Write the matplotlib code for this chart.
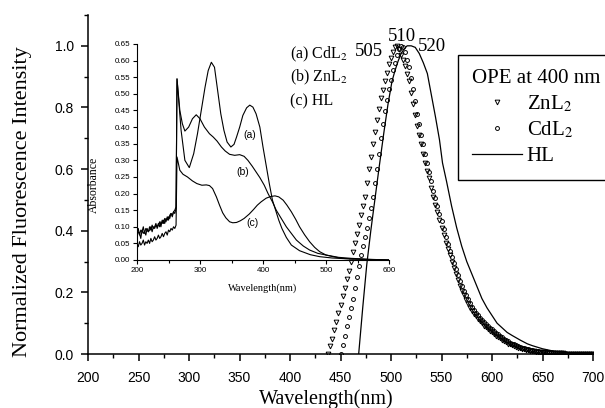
import numpy as np
import matplotlib
matplotlib.use('Agg')
import matplotlib.pyplot as plt
from matplotlib.ticker import MultipleLocator, FormatStrFormatter

plt.rcParams['font.family'] = 'Liberation Sans'
plt.rcParams['mathtext.fontset'] = 'stix'

# fluorescence (OPE at 400 nm), normalized
zn_wl = np.arange(438, 701, 2)
zn_int = [0.000, 0.025, 0.050, 0.078, 0.105, 0.132, 0.160, 0.188, 0.215, 0.243,
          0.270, 0.300, 0.330, 0.360, 0.390, 0.420, 0.450, 0.480, 0.510, 0.555,
          0.600, 0.640, 0.680, 0.720, 0.760, 0.795, 0.830, 0.858, 0.885, 0.913,
          0.940, 0.960, 0.980, 0.995, 1.000, 0.990, 0.970, 0.953, 0.935, 0.910,
          0.885, 0.848, 0.810, 0.775, 0.740, 0.710, 0.680, 0.650, 0.620, 0.595,
          0.570, 0.540, 0.510, 0.485, 0.460, 0.435, 0.410, 0.385, 0.360, 0.340,
          0.320, 0.300, 0.280, 0.260, 0.240, 0.222, 0.205, 0.190, 0.175, 0.162,
          0.150, 0.140, 0.131, 0.122, 0.114, 0.106, 0.099, 0.092, 0.086, 0.080,
          0.075, 0.070,
          0.065, 0.060, 0.055, 0.051, 0.046, 0.042, 0.038, 0.034, 0.031, 0.028,
          0.026, 0.023, 0.021, 0.019, 0.017, 0.015, 0.014, 0.012, 0.011, 0.010,
          0.009, 0.008, 0.007, 0.006, 0.006, 0.005, 0.004, 0.004, 0.003, 0.003,
          0.003, 0.002, 0.002, 0.002, 0.002, 0.001, 0.001, 0.001, 0.001, 0.001,
          0.000, 0.000, 0.000, 0.000, 0.000, 0.000, 0.000, 0.000, 0.000, 0.000]

cd_wl = np.arange(450, 701, 2)
cd_int = [0.000, 0.030, 0.060, 0.090, 0.120, 0.150, 0.180, 0.215, 0.250, 0.285,
          0.320, 0.350, 0.380, 0.410, 0.440, 0.475, 0.510, 0.555, 0.600, 0.650,
          0.700, 0.745, 0.790, 0.825, 0.860, 0.890, 0.920, 0.945, 0.970, 0.990,
          1.000, 0.995, 0.980, 0.955, 0.930, 0.895, 0.860, 0.820, 0.780, 0.745,
          0.710, 0.680, 0.650, 0.620, 0.590, 0.560, 0.530, 0.505, 0.480, 0.455,
          0.430, 0.405, 0.380, 0.358, 0.335, 0.315, 0.295, 0.275, 0.255, 0.238,
          0.220, 0.205, 0.190, 0.177, 0.165, 0.153, 0.142, 0.133, 0.125, 0.117,
          0.110, 0.103, 0.097, 0.091, 0.085, 0.080, 0.075, 0.069, 0.064, 0.059,
          0.054, 0.050, 0.045, 0.041, 0.037, 0.034, 0.031, 0.028, 0.025, 0.023,
          0.021, 0.019, 0.017, 0.015, 0.014, 0.012, 0.011, 0.010, 0.009, 0.008,
          0.007, 0.006, 0.006, 0.005, 0.005, 0.004, 0.004, 0.003, 0.003, 0.002,
          0.002, 0.002, 0.001, 0.001, 0.001, 0.001,
          0.000, 0.000, 0.000, 0.000, 0.000, 0.000, 0.000, 0.000, 0.000, 0.000]

hl_wl = [468, 472, 476, 480, 484, 488, 493, 497, 501, 504, 507, 510, 513, 516,
         520, 524, 528, 532, 536, 540, 544, 548, 551, 555, 560, 565, 570, 575,
         580, 585, 590, 595, 600, 605, 610, 615, 620, 628, 635, 640, 650, 660,
         670, 680, 690, 700]
hl_int = [0.0, 0.15, 0.29, 0.40, 0.50, 0.60, 0.72, 0.81, 0.885, 0.92, 0.95,
          0.975, 0.99, 1.0, 1.0, 0.995, 0.975, 0.945, 0.91, 0.84, 0.77, 0.695,
          0.62, 0.56, 0.48, 0.41, 0.35, 0.30, 0.26, 0.22, 0.18, 0.15, 0.125,
          0.10, 0.085, 0.07, 0.06, 0.045, 0.033, 0.027, 0.017, 0.01, 0.005,
          0.002, 0.001, 0.0]

peak_labels = ['505', '510', '520']
peak_pos = [(478, 0.98), (511, 1.03), (541, 0.997)]

# absorbance (inset)
noise_wl = list(range(200, 263, 2))
abs_a_wl = noise_wl + [263.5, 270, 276, 283, 290, 296, 302, 308, 313, 318, 323,
                       328, 333, 338, 343, 349, 354, 358, 363, 368, 374, 379,
                       384, 389, 395, 400, 405, 410, 415, 420, 425, 430, 437,
                       445, 458, 475, 490, 510, 530, 560, 600]
abs_a = [0.080, 0.095, 0.075, 0.090, 0.085, 0.100, 0.080, 0.095, 0.090, 0.085,
         0.100, 0.090, 0.105, 0.095, 0.100, 0.110, 0.095, 0.105, 0.115, 0.100,
         0.120, 0.110, 0.125, 0.115, 0.130, 0.120, 0.135, 0.140, 0.130, 0.145,
         0.150, 0.160,
         0.545, 0.390, 0.300, 0.278, 0.320, 0.380, 0.450, 0.520, 0.570, 0.595,
         0.580, 0.510, 0.440, 0.390, 0.355, 0.340, 0.348, 0.370, 0.400, 0.435,
         0.458, 0.466, 0.460, 0.440, 0.400, 0.340, 0.285, 0.230, 0.180, 0.150,
         0.120, 0.095, 0.068, 0.045, 0.028, 0.016, 0.010, 0.006, 0.004, 0.002,
         0.000]

abs_b_wl = noise_wl + [263.5, 268, 272, 276, 282, 288, 294, 300, 307, 315, 321,
                       327, 334, 340, 347, 355, 363, 370, 376, 383, 389, 395,
                       402, 408, 415, 421, 429, 437, 445, 453, 464, 474, 487,
                       500, 520, 540, 570, 600]
abs_b = [0.070, 0.085, 0.080, 0.065, 0.090, 0.080, 0.085, 0.075, 0.095, 0.085,
         0.090, 0.100, 0.085, 0.100, 0.095, 0.105, 0.100, 0.110, 0.100, 0.115,
         0.110, 0.120, 0.110, 0.125, 0.120, 0.130, 0.125, 0.140, 0.135, 0.145,
         0.140, 0.155,
         0.545, 0.450, 0.410, 0.388, 0.400, 0.425, 0.437, 0.425, 0.400, 0.380,
         0.370, 0.358, 0.340, 0.328, 0.318, 0.315, 0.317, 0.312, 0.300, 0.282,
         0.265, 0.248, 0.225, 0.200, 0.175, 0.150, 0.125, 0.100, 0.080, 0.060,
         0.042, 0.030, 0.020, 0.015, 0.008, 0.005, 0.002, 0.000]

abs_c_wl = noise_wl + [263.5, 268, 273, 280, 288, 295, 303, 310, 315, 320, 326,
                       331, 336, 341, 347, 352, 358, 364, 370, 378, 385, 391,
                       397, 405, 412, 419, 425, 432, 438, 445, 452, 458, 466,
                       474, 482, 490, 500, 511, 525, 543, 570, 600]
abs_c = [0.050, 0.040, 0.055, 0.045, 0.050, 0.060, 0.045, 0.055, 0.050, 0.060,
         0.050, 0.065, 0.055, 0.060, 0.070, 0.060, 0.065, 0.075, 0.065, 0.070,
         0.080, 0.070, 0.080, 0.085, 0.075, 0.090, 0.085, 0.095, 0.090, 0.100,
         0.095, 0.105,
         0.310, 0.270, 0.258, 0.250, 0.238, 0.230, 0.225, 0.226, 0.224, 0.215,
         0.190, 0.165, 0.142, 0.127, 0.115, 0.112, 0.113, 0.118, 0.125, 0.138,
         0.152, 0.165, 0.175, 0.186, 0.191, 0.193, 0.190, 0.180, 0.165, 0.145,
         0.122, 0.100, 0.076, 0.055, 0.038, 0.025, 0.015, 0.010, 0.005, 0.003,
         0.001, 0.000]

inset_labels = ['(a) CdL$_2$', '(b) ZnL$_2$', '(c) HL']
curve_tags = ['(a)', '(b)', '(c)']
tag_pos = [(379, 0.376), (368, 0.265), (384, 0.11)]

W, H = 605, 408
fig = plt.figure(figsize=(W / 100, H / 100), dpi=100)
ax = fig.add_axes([88 / W, 1 - 354 / H, 505 / W, 339 / H])

serif = 'Liberation Serif'

ax.plot(zn_wl, zn_int, linestyle='none', marker='v', ms=3.4, mfc='none',
        mec='black', mew=0.7, label='ZnL$_2$')
ax.plot(cd_wl, cd_int, linestyle='none', marker='o', ms=2.8, mfc='none',
        mec='black', mew=0.7, label='CdL$_2$')
ax.plot(hl_wl, hl_int, color='black', lw=0.9, label='HL')

for txt, (px, py) in zip(peak_labels, peak_pos):
    ax.text(px, py, txt, family=serif, fontsize=13.5, ha='center', va='center')

ax.set_xlim(200, 700)
ax.set_ylim(0, 1.1)
ax.spines['top'].set_visible(False)
ax.spines['right'].set_visible(False)
for s in ['left', 'bottom']:
    ax.spines[s].set_linewidth(1.1)
ax.xaxis.set_major_locator(MultipleLocator(50))
ax.xaxis.set_minor_locator(MultipleLocator(25))
ax.yaxis.set_major_locator(MultipleLocator(0.2))
ax.yaxis.set_minor_locator(MultipleLocator(0.1))
ax.yaxis.set_major_formatter(FormatStrFormatter('%.1f'))
ax.tick_params(which='major', direction='out', length=5, width=1.1, labelsize=10)
ax.tick_params(which='minor', direction='out', length=3, width=1.0)
ax.tick_params(axis='x', pad=7)
ax.tick_params(axis='y', pad=5)
ax.set_xlabel('Wavelength(nm)', family=serif, fontsize=14.5)
ax.set_ylabel('Normalized Fluorescence Intensity', family=serif, fontsize=16)
ax.xaxis.set_label_coords(0.471, -0.104)
ax.yaxis.set_label_coords(-0.111, 0.45)

leg = ax.legend(title='OPE at 400 nm', loc='upper left',
                bbox_to_anchor=(458 / W, 1 - 55 / H), bbox_transform=fig.transFigure,
                borderaxespad=0, fancybox=False, edgecolor='black', framealpha=1,
                alignment='left', numpoints=1, handlelength=2.4,
                handletextpad=0.25, borderpad=0.65, labelspacing=0.28,
                prop={'family': serif, 'size': 15},
                title_fontproperties={'family': serif, 'size': 15})
leg.get_frame().set_linewidth(1.0)

# inset: absorption spectra
ins = fig.add_axes([137 / W, 1 - 260 / H, 252 / W, 216 / H])
ins.patch.set_alpha(0)
ins.plot(abs_a_wl, abs_a, color='black', lw=0.8)
ins.plot(abs_b_wl, abs_b, color='black', lw=0.8)
ins.plot(abs_c_wl, abs_c, color='black', lw=0.8)
for tag, (px, py) in zip(curve_tags, tag_pos):
    ins.text(px, py, tag, fontsize=7.5, ha='center', va='center')
for i, lab in enumerate(inset_labels):
    ins.text(443, 0.62 - i * 0.071, lab, family=serif, fontsize=11.5,
             ha='left', va='center', clip_on=False)
ins.set_xlim(200, 600)
ins.set_ylim(0, 0.65)
ins.spines['top'].set_visible(False)
ins.spines['right'].set_visible(False)
ins.xaxis.set_major_locator(MultipleLocator(100))
ins.xaxis.set_minor_locator(MultipleLocator(50))
ins.yaxis.set_major_locator(MultipleLocator(0.05))
ins.yaxis.set_major_formatter(FormatStrFormatter('%.2f'))
ins.tick_params(which='major', direction='out', length=3, width=0.8, labelsize=5.8, pad=2)
ins.tick_params(which='minor', direction='out', length=2, width=0.8)
ins.set_xlabel('Wavelength(nm)', family=serif, fontsize=7.5)
ins.set_ylabel('Absorbance', family=serif, fontsize=8.5)
ins.xaxis.set_label_coords(0.5, -0.11)
ins.yaxis.set_label_coords(-0.148, 0.35)

fig.savefig('out.png', dpi=100)
